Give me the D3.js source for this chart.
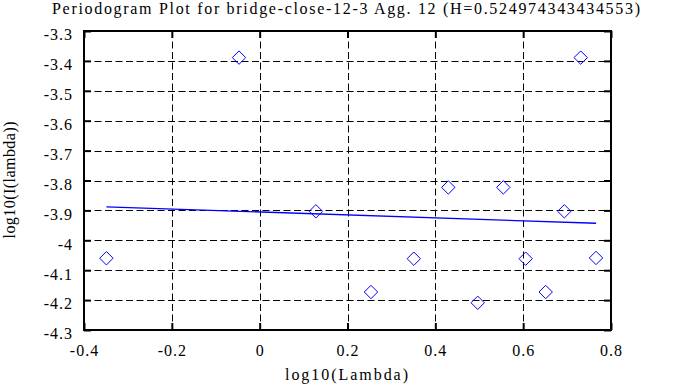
<!DOCTYPE html>
<html>
<head>
<meta charset="utf-8">
<script src="https://cdn.jsdelivr.net/npm/d3@7"></script>
<style>
  body { margin: 0; background: #fff; }
</style>
</head>
<body>
<script>
// periodogram points
var log_lambda = [-0.349, -0.047, 0.128, 0.2535, 0.351, 0.4295, 0.4965, 0.5548, 0.6057, 0.6513, 0.6937, 0.731, 0.7659];
var log_i = [-4.060, -3.389, -3.903, -4.173, -4.0615, -3.823, -4.209, -3.823, -4.0615, -4.173, -3.903, -3.389, -4.059];

// fitted line end points
var fit_x = [-0.349, 0.766];
var fit_y = [-3.888, -3.943];

var x_ticks = [-0.4, -0.2, 0, 0.2, 0.4, 0.6, 0.8];
var y_ticks = [-3.3, -3.4, -3.5, -3.6, -3.7, -3.8, -3.9, -4, -4.1, -4.2, -4.3];

var chart_title = 'Periodogram Plot for bridge-close-12-3 Agg. 12 (H=0.524974343434553)';
var x_title = 'log10(Lambda)';
var y_title = 'log10(I(lambda))';

function draw() {
  "use strict";
  var width = 695, height = 387;
  var plot_left = 84, plot_right = 611, plot_top = 31, plot_bottom = 330;
  var tick_len = 7;
  var blue = '#0000ff';
  var font = "'Liberation Serif'";

  var svg = d3.select('body').append('svg')
      .attr('width', width)
      .attr('height', height);

  var x = d3.scaleLinear().domain([-0.4, 0.8]).range([plot_left, plot_right]);
  var y = d3.scaleLinear().domain([-4.3, -3.3]).range([plot_bottom, plot_top]);

  // grid
  var grid = svg.append('g').attr('class', 'grid');
  grid.selectAll('line.vgrid')
      .data(x_ticks.slice(1, -1))
      .enter().append('line')
      .attr('class', 'vgrid')
      .attr('x1', function(d) { return Math.round(x(d)) + 0.5; })
      .attr('x2', function(d) { return Math.round(x(d)) + 0.5; })
      .attr('y1', plot_top).attr('y2', plot_bottom)
      .style('stroke', '#000').style('stroke-width', 1)
      .style('stroke-dasharray', '7,3.5');

  grid.selectAll('line.hgrid')
      .data(y_ticks.slice(1, -1))
      .enter().append('line')
      .attr('class', 'hgrid')
      .attr('y1', function(d) { return Math.round(y(d)) + 0.5; })
      .attr('y2', function(d) { return Math.round(y(d)) + 0.5; })
      .attr('x1', plot_left).attr('x2', plot_right)
      .style('stroke', '#000').style('stroke-width', 1)
      .style('stroke-dasharray', '7,3.5');

  // axes, ticks pointing inward on all four sides
  var fmt = function(d) { return String(+d.toFixed(1)); };

  var bottom_axis = svg.append('g')
      .attr('transform', 'translate(0,' + plot_bottom + ')')
      .call(d3.axisBottom(x).tickValues(x_ticks).tickSizeInner(-tick_len).tickSizeOuter(0).tickPadding(tick_len + 5).tickFormat(fmt));
  var top_axis = svg.append('g')
      .attr('transform', 'translate(0,' + plot_top + ')')
      .call(d3.axisTop(x).tickValues(x_ticks).tickSizeInner(-tick_len).tickSizeOuter(0).tickFormat(''));
  var left_axis = svg.append('g')
      .attr('transform', 'translate(' + plot_left + ',0)')
      .call(d3.axisLeft(y).tickValues(y_ticks).tickSizeInner(-tick_len).tickSizeOuter(0).tickPadding(tick_len + 4).tickFormat(fmt));
  var right_axis = svg.append('g')
      .attr('transform', 'translate(' + plot_right + ',0)')
      .call(d3.axisRight(y).tickValues(y_ticks).tickSizeInner(-tick_len).tickSizeOuter(0).tickFormat(''));

  [bottom_axis, top_axis, left_axis, right_axis].forEach(function(a) {
    a.attr('font-family', null).attr('font-size', null);
    a.select('.domain').remove();
    a.selectAll('.tick line').style('stroke', '#000').style('stroke-width', 2);
    a.selectAll('text')
      .style('font-family', font)
      .style('font-size', '16px')
      .style('letter-spacing', '1px')
      .attr('fill', '#000');
  });
  left_axis.selectAll('text').attr('dy', '0.55em');
  bottom_axis.selectAll('text').attr('dy', '0.85em');

  // border
  svg.append('rect')
      .attr('x', plot_left).attr('y', plot_top)
      .attr('width', plot_right - plot_left).attr('height', plot_bottom - plot_top)
      .style('fill', 'none').style('stroke', '#000').style('stroke-width', 2);

  // fitted line
  svg.append('path')
      .datum(d3.zip(fit_x, fit_y))
      .attr('d', d3.line().x(function(d) { return x(d[0]); }).y(function(d) { return y(d[1]); }))
      .style('fill', 'none').style('stroke', blue).style('stroke-width', 1.3);

  // diamonds
  var half = 6.7;
  svg.selectAll('path.pt')
      .data(d3.zip(log_lambda, log_i))
      .enter().append('path')
      .attr('class', 'pt')
      .attr('transform', function(d) { return 'translate(' + x(d[0]) + ',' + y(d[1]) + ')'; })
      .attr('d', 'M0,' + (-half) + 'L' + half + ',0L0,' + half + 'L' + (-half) + ',0Z')
      .style('fill', 'none').style('stroke', blue).style('stroke-width', 1);

  // titles
  svg.append('text')
      .attr('x', 346).attr('y', 14)
      .attr('text-anchor', 'middle')
      .attr('textLength', 588).attr('lengthAdjust', 'spacing')
      .style('font-family', font)
      .style('font-size', '16px')
      .text(chart_title);

  svg.append('text')
      .attr('x', 346.5).attr('y', 380)
      .attr('text-anchor', 'middle')
      .attr('textLength', 123).attr('lengthAdjust', 'spacing')
      .style('font-family', font)
      .style('font-size', '16px')
      .text(x_title);

  svg.append('text')
      .attr('transform', 'translate(15,180) rotate(-90)')
      .attr('text-anchor', 'middle')
      .attr('textLength', 117).attr('lengthAdjust', 'spacing')
      .style('font-family', font)
      .style('font-size', '16px')
      .text(y_title);
}

draw();
</script>
</body>
</html>
